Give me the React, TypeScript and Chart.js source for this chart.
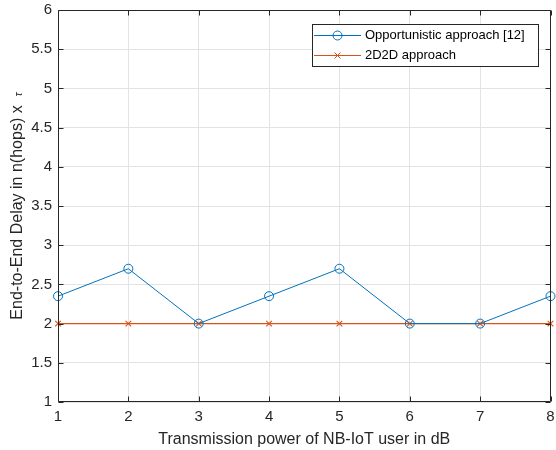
import React, { useEffect, useRef } from "react";
import { Chart, registerables } from "chart.js";

Chart.register(...registerables);

const xValues = [1, 2, 3, 4, 5, 6, 7, 8];
const opportunistic = [2.35, 2.7, 2.0, 2.35, 2.7, 2.0, 2.0, 2.35];
const d2d = [2, 2, 2, 2, 2, 2, 2, 2];
const seriesNames = ["Opportunistic approach [12]", "2D2D approach"];
const xTitle = "Transmission power of NB-IoT user in dB";
const yTitleMain = "End-to-End Delay in n(hops) x  ";
const yTitleSym = "τ";

const FONT = "'Liberation Sans', Arial, Helvetica, sans-serif";
const TEXT = "#262626";
const BLUE = "#0072BD";
const ORANGE = "#D95319";

const matlabPlugin = {
  id: "matlabDeco",
  afterDatasetsDraw(chart: any) {
    const { ctx, chartArea } = chart;
    const { left, right, top, bottom } = chartArea;
    const xs = chart.scales.x;
    const ys = chart.scales.y;
    ctx.save();
    ctx.strokeStyle = TEXT;
    ctx.lineWidth = 1;
    const L = Math.round(left) + 0.5;
    const R = Math.round(right) - 0.5;
    const T = Math.round(top) + 0.5;
    const B = Math.round(bottom) - 0.5;
    ctx.beginPath();
    ctx.rect(L, T, R - L, B - T);
    ctx.stroke();
    const tl = 5;
    ctx.beginPath();
    xs.ticks.forEach((t: any) => {
      const px = Math.round(xs.getPixelForValue(t.value)) + 0.5;
      ctx.moveTo(px, B);
      ctx.lineTo(px, B - tl);
      ctx.moveTo(px, T);
      ctx.lineTo(px, T + tl);
    });
    ys.ticks.forEach((t: any) => {
      const py = Math.round(ys.getPixelForValue(t.value)) + 0.5;
      ctx.moveTo(L, py);
      ctx.lineTo(L + tl, py);
      ctx.moveTo(R, py);
      ctx.lineTo(R - tl, py);
    });
    ctx.stroke();
    ctx.restore();
  },
  afterDraw(chart: any) {
    const { ctx, chartArea } = chart;
    ctx.save();
    // y title
    const cy = (chartArea.top + chartArea.bottom) / 2;
    ctx.fillStyle = TEXT;
    ctx.font = `16px ${FONT}`;
    const w1 = ctx.measureText(yTitleMain).width;
    ctx.font = `italic 11px ${FONT}`;
    const w2 = ctx.measureText(yTitleSym).width;
    const total = w1 + w2;
    ctx.translate(21.5, cy);
    ctx.rotate(-Math.PI / 2);
    ctx.textBaseline = "alphabetic";
    ctx.textAlign = "left";
    ctx.font = `16px ${FONT}`;
    ctx.fillText(yTitleMain, -total / 2, 0);
    ctx.font = `italic 11px ${FONT}`;
    ctx.fillText(yTitleSym, -total / 2 + w1, 0);
    ctx.restore();

    // legend
    ctx.save();
    const bx = 312.5, by = 24.5, bw = 226, bh = 42;
    ctx.fillStyle = "#ffffff";
    ctx.fillRect(bx, by, bw, bh);
    ctx.strokeStyle = TEXT;
    ctx.lineWidth = 1;
    ctx.strokeRect(bx, by, bw, bh);
    const rows = [
      { y: 35.5, color: BLUE, marker: "circle" },
      { y: 55.5, color: ORANGE, marker: "cross" },
    ];
    rows.forEach((r, i) => {
      ctx.strokeStyle = r.color;
      ctx.lineWidth = 1;
      ctx.beginPath();
      ctx.moveTo(314, r.y);
      ctx.lineTo(361, r.y);
      ctx.stroke();
      if (r.marker === "circle") {
        ctx.beginPath();
        ctx.arc(337.5, r.y, 4.5, 0, Math.PI * 2);
        ctx.stroke();
      } else {
        const d = 3;
        ctx.beginPath();
        ctx.moveTo(337.5 - d, r.y - d);
        ctx.lineTo(337.5 + d, r.y + d);
        ctx.moveTo(337.5 - d, r.y + d);
        ctx.lineTo(337.5 + d, r.y - d);
        ctx.stroke();
      }
      ctx.fillStyle = "#000000";
      ctx.font = `13px ${FONT}`;
      ctx.textAlign = "left";
      ctx.textBaseline = "middle";
      ctx.fillText(seriesNames[i], 365, r.y);
    });
    ctx.restore();
  },
};

export default function App() {
  const ref = useRef<HTMLCanvasElement | null>(null);
  useEffect(() => {
    if (!ref.current) return;
    const chart = new Chart(ref.current, {
      type: "line",
      data: {
        datasets: [
          {
            label: seriesNames[0],
            data: xValues.map((x, i) => ({ x, y: opportunistic[i] })),
            borderColor: BLUE,
            backgroundColor: "rgba(0,0,0,0)",
            borderWidth: 1,
            pointStyle: "circle",
            pointRadius: 4.5,
            pointBorderWidth: 1,
            pointBorderColor: BLUE,
            pointBackgroundColor: "rgba(0,0,0,0)",
            tension: 0,
            clip: false as any,
          },
          {
            label: seriesNames[1],
            data: xValues.map((x, i) => ({ x, y: d2d[i] })),
            borderColor: ORANGE,
            backgroundColor: "rgba(0,0,0,0)",
            borderWidth: 1.4,
            pointStyle: "crossRot",
            pointRadius: 4,
            pointBorderWidth: 1.1,
            pointBorderColor: ORANGE,
            tension: 0,
            clip: false as any,
          },
        ],
      },
      options: {
        animation: false,
        responsive: false,
        layout: { padding: { top: 10, right: 3, left: 0, bottom: 0 } },
        plugins: {
          legend: { display: false },
          tooltip: { enabled: false },
        },
        scales: {
          x: {
            type: "linear",
            min: 1,
            max: 8,
            afterFit: (s: any) => {
              s.height = 48;
              s.paddingLeft = 0;
              s.paddingRight = 0;
              s.paddingTop = 0;
              s.paddingBottom = 0;
            },
            ticks: {
              stepSize: 1,
              color: TEXT,
              font: { family: FONT, size: 15 },
              padding: 6,
              maxRotation: 0,
              callback: (v: any) => String(v),
            },
            grid: { color: "#e3e3e3", drawTicks: false, lineWidth: 1 },
            border: { display: false },
            title: {
              display: true,
              text: xTitle,
              color: TEXT,
              font: { family: FONT, size: 16 },
              padding: { top: 0, bottom: 0.5 },
            },
          },
          y: {
            type: "linear",
            min: 1,
            max: 6,
            afterFit: (s: any) => {
              s.width = 58;
              s.paddingLeft = 0;
              s.paddingRight = 0;
              s.paddingTop = 0;
              s.paddingBottom = 0;
            },
            ticks: {
              stepSize: 0.5,
              color: TEXT,
              font: { family: FONT, size: 15 },
              padding: 6,
              callback: (v: any) => String(Math.round(Number(v) * 10) / 10),
            },
            grid: { color: "#e3e3e3", drawTicks: false, lineWidth: 1 },
            border: { display: false },
          },
        },
      },
      plugins: [matlabPlugin],
    } as any);
    return () => chart.destroy();
  }, []);
  return (
    <div style={{ position: "fixed", left: 0, top: 0, width: 556, height: 450, background: "#fff" }}>
      <canvas ref={ref} width={556} height={450} style={{ width: 556, height: 450 }} />
    </div>
  );
}
